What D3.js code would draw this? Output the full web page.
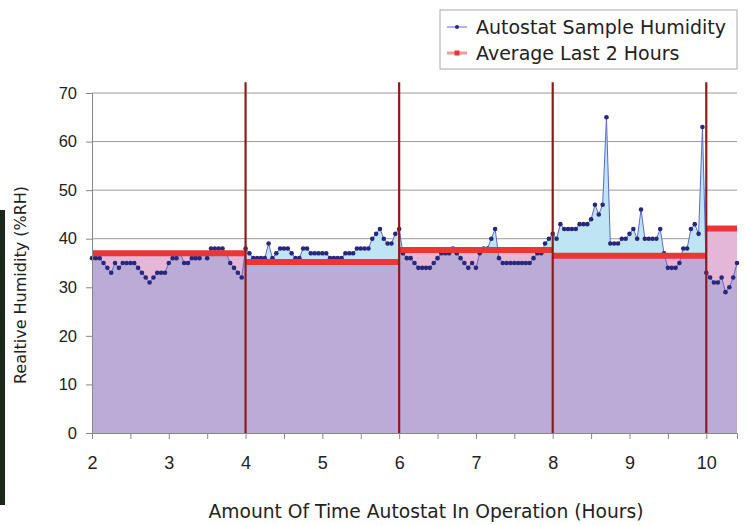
<!DOCTYPE html>
<html>
<head>
<meta charset="utf-8">
<script src="https://cdn.jsdelivr.net/npm/d3@7"></script>
<style>
  body { margin: 0; background: #fff; }
  text { font-family: "DejaVu Sans", sans-serif; fill: #222; }
  .tick text { font-family: "Liberation Sans", Arial, sans-serif; }
</style>
</head>
<body>
<svg id="chart" width="746" height="525"></svg>
<script>
// samples every 3 minutes starting at hour 2
var startHour = 2, sampleMinutes = 3;
var humidity = [
  36,36,36,35,34,33,35,34,35,35, 35,35,34,33,32,31,32,33,33,33,
  35,36,36,37,35,35,36,36,36,37, 36,38,38,38,38,37,35,34,33,32,
  38,37,36,36,36,36,39,36,37,38, 38,38,37,36,36,38,38,37,37,37,
  37,37,36,36,36,36,37,37,37,38, 38,38,38,40,41,42,40,39,39,41,
  42,37,36,36,35,34,34,34,34,35, 36,37,37,37,38,37,36,35,34,35,
  34,37,38,38,40,42,36,35,35,35, 35,35,35,35,35,36,37,37,39,40,
  41,40,43,42,42,42,42,43,43,43, 44,47,45,47,65,39,39,39,40,40,
  41,42,40,46,40,40,40,40,42,37, 34,34,34,35,38,38,42,43,41,63,
  33,32,31,31,32,29,30,32,35
];
// average of the last 2 hours, shown as steps
var avgStart = [2, 4, 6, 8, 10];
var avgEnd = [4, 6, 8, 10, 10.4];
var avgValue = [37, 35.2, 37.7, 36.5, 42.1];
var boundaries = [4, 6, 8, 10];
var yTicks = [0, 10, 20, 30, 40, 50, 60, 70];
var xTicks = [2, 3, 4, 5, 6, 7, 8, 9, 10];
var xMinorTicks = d3.range(2, 10.5, 0.5);

var svg = d3.select("#chart");
var x = d3.scaleLinear().domain([2, 10.4]).range([92, 737]);
var y = d3.scaleLinear().domain([0, 70]).range([433, 93]);

var samples = humidity.map(function(v, i) {
  return { t: startHour + i * sampleMinutes / 60, v: v };
});
var steps = avgStart.map(function(s, i) { return { t: s, v: avgValue[i] }; });
steps.push({ t: avgEnd[avgEnd.length - 1], v: avgValue[avgValue.length - 1] });

// left dark edge of the scanned page
svg.append("rect").attr("x", 0).attr("y", 210).attr("width", 5).attr("height", 295).attr("fill", "#1b271b");

// grid
svg.append("g").selectAll("line")
  .data(yTicks.slice(1))
  .enter().append("line")
    .attr("x1", x(2)).attr("x2", x(10.4))
    .attr("y1", function(d) { return y(d); })
    .attr("y2", function(d) { return y(d); })
    .attr("stroke", "#9a9a9a").attr("stroke-width", 1);

var avgArea = d3.area().curve(d3.curveStepAfter)
  .x(function(d) { return x(d.t); })
  .y0(y(0)).y1(function(d) { return y(d.v); });
var humArea = d3.area()
  .x(function(d) { return x(d.t); })
  .y0(y(0)).y1(function(d) { return y(d.v); });

svg.append("clipPath").attr("id", "avgClip")
  .append("path").attr("d", avgArea(steps));

svg.append("path").attr("d", avgArea(steps)).attr("fill", "#e4b6d8");
svg.append("path").attr("d", humArea(samples)).attr("fill", "#bfe5f5");
svg.append("path").attr("d", humArea(samples)).attr("fill", "#baabd7")
  .attr("clip-path", "url(#avgClip)");

// humidity line + markers
var line = d3.line().x(function(d) { return x(d.t); }).y(function(d) { return y(d.v); });
svg.append("path").attr("d", line(samples))
  .attr("fill", "none").attr("stroke", "#5a6ad0").attr("stroke-width", 1);
svg.append("g").selectAll("circle")
  .data(samples)
  .enter().append("circle")
    .attr("cx", function(d) { return x(d.t); })
    .attr("cy", function(d) { return y(d.v); })
    .attr("r", 2.3)
    .attr("fill", "#28287a");

// average steps
svg.append("g").selectAll("line")
  .data(avgValue)
  .enter().append("line")
    .attr("x1", function(d, i) { return x(avgStart[i]); })
    .attr("x2", function(d, i) { return x(avgEnd[i]); })
    .attr("y1", function(d) { return y(d); })
    .attr("y2", function(d) { return y(d); })
    .attr("stroke", "#ee3535").attr("stroke-width", 6);

// two-hour boundaries
svg.append("g").selectAll("line")
  .data(boundaries)
  .enter().append("line")
    .attr("x1", function(d) { return x(d); })
    .attr("x2", function(d) { return x(d); })
    .attr("y1", y(72.2)).attr("y2", y(0))
    .attr("stroke", "#8e1b1b").attr("stroke-width", 2.2);

// axes
var yAxis = svg.append("g")
  .attr("transform", "translate(" + x(2) + ",0)")
  .call(d3.axisLeft(y).tickValues(yTicks).tickSize(6).tickPadding(9));
yAxis.selectAll("text").attr("font-size", 16.5).attr("fill", "#333");

var xAxis = svg.append("g")
  .attr("transform", "translate(0," + y(0) + ")")
  .call(d3.axisBottom(x).tickValues(xMinorTicks).tickSize(6).tickPadding(17)
    .tickFormat(function(d) { return xTicks.indexOf(d) >= 0 ? d : ""; }));
xAxis.selectAll("text").attr("font-size", 18).attr("fill", "#333");

svg.selectAll(".domain").attr("stroke", "#888");
svg.selectAll(".tick line").attr("stroke", "#888");

// titles
svg.append("text")
  .attr("transform", "translate(26,285) rotate(-90)")
  .attr("text-anchor", "middle")
  .attr("font-size", 16)
  .text("Realtive Humidity (%RH)");
svg.append("text")
  .attr("x", 426).attr("y", 518)
  .attr("text-anchor", "middle")
  .attr("font-size", 18.7)
  .text("Amount Of Time Autostat In Operation (Hours)");

// legend
var legend = svg.append("g");
legend.append("rect").attr("x", 440).attr("y", 10).attr("width", 297).attr("height", 59)
  .attr("fill", "#fff").attr("stroke", "#a8a8a8");
legend.append("line").attr("x1", 447).attr("x2", 467).attr("y1", 27).attr("y2", 27)
  .attr("stroke", "#5a6ad0").attr("stroke-width", 1);
legend.append("circle").attr("cx", 457).attr("cy", 27).attr("r", 2).attr("fill", "#28287a");
legend.append("text").attr("x", 476).attr("y", 27).attr("dy", "0.35em")
  .attr("font-size", 19).text("Autostat Sample Humidity");
legend.append("line").attr("x1", 447).attr("x2", 467).attr("y1", 53).attr("y2", 53)
  .attr("stroke", "#f39a9a").attr("stroke-width", 3);
legend.append("rect").attr("x", 454.5).attr("y", 50.5).attr("width", 5).attr("height", 5)
  .attr("fill", "#ee3535");
legend.append("text").attr("x", 476).attr("y", 53).attr("dy", "0.35em")
  .attr("font-size", 19).text("Average Last 2 Hours");
</script>
</body>
</html>
